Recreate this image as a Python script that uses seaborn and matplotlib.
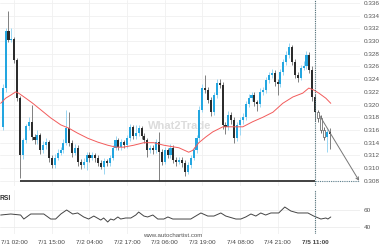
import numpy as np
import pandas as pd
import matplotlib
matplotlib.use("Agg")
import matplotlib.pyplot as plt
import seaborn as sns

# ---------------- data ----------------
opens = [0.3165, 0.3226, 0.3316, 0.3302, 0.3304, 0.3270, 0.3210, 0.3121, 0.3144, 0.3166,
         0.3173, 0.3149, 0.3144, 0.3152, 0.3128, 0.3136, 0.3141, 0.3116, 0.3105, 0.3116,
         0.3124, 0.3128, 0.3140, 0.3163, 0.3140, 0.3124, 0.3132, 0.3110, 0.3105, 0.3110,
         0.3121, 0.3116, 0.3121, 0.3116, 0.3108, 0.3102, 0.3111, 0.3108, 0.3116, 0.3132,
         0.3144, 0.3133, 0.3141, 0.3136, 0.3147, 0.3165, 0.3151, 0.3155, 0.3163, 0.3151,
         0.3144, 0.3128, 0.3132, 0.3128, 0.3141, 0.3125, 0.3110, 0.3128, 0.3121, 0.3132,
         0.3113, 0.3110, 0.3113, 0.3108, 0.3094, 0.3105, 0.3116, 0.3128, 0.3147, 0.3192,
         0.3226, 0.3223, 0.3207, 0.3188, 0.3215, 0.3234, 0.3231, 0.3168, 0.3165, 0.3184,
         0.3176, 0.3147, 0.3168, 0.3176, 0.3180, 0.3201, 0.3210, 0.3215, 0.3204, 0.3201,
         0.3220, 0.3223, 0.3239, 0.3247, 0.3250, 0.3236, 0.3232, 0.3251, 0.3267, 0.3278,
         0.3291, 0.3267, 0.3247, 0.3242, 0.3258, 0.3261, 0.3278, 0.3255, 0.3212, 0.3188,
         0.3179, 0.3160, 0.3149, 0.3157]
closes = [0.3226, 0.3316, 0.3302, 0.3304, 0.3270, 0.3210, 0.3121, 0.3144, 0.3166, 0.3173,
          0.3149, 0.3144, 0.3152, 0.3128, 0.3136, 0.3141, 0.3116, 0.3105, 0.3116, 0.3124,
          0.3128, 0.3140, 0.3163, 0.3140, 0.3124, 0.3132, 0.3110, 0.3105, 0.3110, 0.3121,
          0.3116, 0.3121, 0.3116, 0.3108, 0.3102, 0.3111, 0.3108, 0.3116, 0.3132, 0.3144,
          0.3133, 0.3141, 0.3136, 0.3147, 0.3165, 0.3151, 0.3155, 0.3163, 0.3151, 0.3144,
          0.3128, 0.3132, 0.3128, 0.3141, 0.3125, 0.3110, 0.3128, 0.3121, 0.3132, 0.3113,
          0.3110, 0.3113, 0.3108, 0.3094, 0.3105, 0.3116, 0.3128, 0.3147, 0.3192, 0.3226,
          0.3223, 0.3207, 0.3188, 0.3215, 0.3234, 0.3231, 0.3168, 0.3165, 0.3184, 0.3176,
          0.3147, 0.3168, 0.3176, 0.3180, 0.3201, 0.3210, 0.3215, 0.3204, 0.3201, 0.3220,
          0.3223, 0.3239, 0.3247, 0.3250, 0.3236, 0.3232, 0.3251, 0.3267, 0.3278, 0.3291,
          0.3267, 0.3247, 0.3242, 0.3258, 0.3261, 0.3278, 0.3255, 0.3212, 0.3188, 0.3179,
          0.3160, 0.3149, 0.3157, 0.3154]
highs = [0.3232, 0.3320, 0.3347, 0.3320, 0.3306, 0.3274, 0.3214, 0.3148, 0.3170, 0.3180,
         0.3199, 0.3153, 0.3160, 0.3156, 0.3142, 0.3148, 0.3145, 0.3120, 0.3122, 0.3130,
         0.3133, 0.3146, 0.3192, 0.3188, 0.3145, 0.3138, 0.3136, 0.3114, 0.3116, 0.3126,
         0.3126, 0.3126, 0.3124, 0.3120, 0.3112, 0.3116, 0.3115, 0.3120, 0.3136, 0.3150,
         0.3148, 0.3146, 0.3145, 0.3152, 0.3170, 0.3168, 0.3168, 0.3168, 0.3167, 0.3155,
         0.3148, 0.3136, 0.3136, 0.3146, 0.3157, 0.3130, 0.3134, 0.3132, 0.3138, 0.3136,
         0.3118, 0.3118, 0.3118, 0.3112, 0.3110, 0.3120, 0.3134, 0.3152, 0.3198, 0.3232,
         0.3246, 0.3228, 0.3212, 0.3220, 0.3240, 0.3240, 0.3236, 0.3172, 0.3190, 0.3188,
         0.3180, 0.3172, 0.3180, 0.3186, 0.3206, 0.3216, 0.3220, 0.3220, 0.3208, 0.3226,
         0.3228, 0.3244, 0.3252, 0.3256, 0.3254, 0.3240, 0.3256, 0.3272, 0.3284, 0.3297,
         0.3294, 0.3272, 0.3252, 0.3262, 0.3268, 0.3284, 0.3283, 0.3260, 0.3216, 0.3192,
         0.3184, 0.3165, 0.3162, 0.3163]
lows = [0.3160, 0.3220, 0.3298, 0.3298, 0.3266, 0.3205, 0.3084, 0.3115, 0.3140, 0.3160,
        0.3144, 0.3138, 0.3138, 0.3122, 0.3124, 0.3130, 0.3110, 0.3100, 0.3100, 0.3112,
        0.3120, 0.3124, 0.3136, 0.3135, 0.3118, 0.3120, 0.3104, 0.3098, 0.3100, 0.3097,
        0.3110, 0.3112, 0.3110, 0.3104, 0.3098, 0.3090, 0.3104, 0.3104, 0.3112, 0.3128,
        0.3128, 0.3128, 0.3132, 0.3132, 0.3142, 0.3146, 0.3146, 0.3150, 0.3146, 0.3140,
        0.3118, 0.3124, 0.3122, 0.3124, 0.3080, 0.3105, 0.3106, 0.3116, 0.3116, 0.3108,
        0.3104, 0.3106, 0.3102, 0.3088, 0.3090, 0.3100, 0.3112, 0.3124, 0.3142, 0.3188,
        0.3218, 0.3202, 0.3182, 0.3184, 0.3210, 0.3226, 0.3162, 0.3154, 0.3160, 0.3170,
        0.3140, 0.3142, 0.3152, 0.3170, 0.3176, 0.3196, 0.3205, 0.3198, 0.3190, 0.3196,
        0.3215, 0.3218, 0.3234, 0.3242, 0.3230, 0.3215, 0.3228, 0.3246, 0.3262, 0.3274,
        0.3262, 0.3242, 0.3236, 0.3238, 0.3254, 0.3256, 0.3250, 0.3206, 0.3174, 0.3172,
        0.3155, 0.3144, 0.3125, 0.3130]
hollow_candles = [109, 110, 111]

ma_idx = [-0.7, 1.0, 2.8, 4.5, 5.5, 8.0, 10.4, 13.1, 16.6, 20.1, 22.8, 25.9, 29.4, 32.8,
          36.3, 39.1, 41.8, 45.3, 48.8, 52.2, 55.7, 60.9, 64.3, 65.7, 67.8, 70.2, 72.6,
          76.1, 79.5, 83.0, 86.4, 89.9, 93.4, 96.8, 100.3, 103.7, 105.8, 107.5, 109.3,
          111.7, 113.4]
ma_val = [0.3202, 0.3210, 0.3215, 0.3220, 0.3218, 0.3210, 0.3202, 0.3192, 0.3179, 0.3168,
          0.3163, 0.3155, 0.3147, 0.3141, 0.3136, 0.3133, 0.3133, 0.3136, 0.3140, 0.3140,
          0.3136, 0.3132, 0.3125, 0.3128, 0.3140, 0.3149, 0.3157, 0.3165, 0.3165, 0.3165,
          0.3173, 0.3180, 0.3188, 0.3202, 0.3212, 0.3218, 0.3226, 0.3223, 0.3218, 0.3210,
          0.3202]

rsi_idx = [-0.7, 2.8, 6.2, 7.3, 9.7, 14.2, 16.6, 18.3, 20.1, 22.1, 24.2, 25.9, 28.0, 29.7,
           31.5, 33.9, 34.9, 36.3, 37.3, 38.4, 39.8, 40.8, 42.5, 44.3, 46.0, 47.0, 48.8,
           50.1, 51.9, 53.6, 55.7, 57.1, 58.8, 65.0, 68.5, 70.9, 73.0, 75.4, 77.1, 80.6,
           82.3, 84.0, 85.8, 87.5, 89.2, 90.9, 92.7, 95.4, 97.5, 99.6, 102.0, 105.5, 107.5,
           110.0, 111.7, 112.4, 113.4]
rsi_val = [54.1, 55.3, 54.1, 49.4, 55.3, 55.3, 49.4, 49.4, 55.3, 60.0, 55.3, 56.5, 51.8, 49.4,
           52.9, 48.2, 50.6, 45.9, 49.4, 48.2, 51.8, 49.4, 50.6, 50.6, 54.1, 57.6, 52.9,
           51.8, 54.1, 49.4, 49.4, 51.8, 49.4, 49.4, 56.5, 52.9, 52.9, 56.5, 52.9, 49.4,
           49.4, 51.8, 55.3, 52.9, 56.5, 54.1, 56.5, 56.5, 63.5, 58.8, 56.5, 56.5, 52.9,
           49.4, 50.6, 49.4, 51.8]

tick_idx = [4, 17, 30, 43, 56, 69, 82, 95, 108]
tick_labels = ["7/1 02:00", "7/1 15:00", "7/2 04:00", "7/2 17:00", "7/3 06:00",
               "7/3 19:00", "7/4 08:00", "7/4 21:00", "7/5 11:00"]
price_ticks = [0.308, 0.310, 0.312, 0.314, 0.316, 0.318, 0.320, 0.322, 0.324, 0.326,
               0.328, 0.330, 0.332, 0.334, 0.336]
rsi_ticks = [40, 60]
support_level = 0.308
support_start = 6
signal_idx = 108
arrow_start = (109.5, 0.3183)
arrow_end = (123.2, 0.3080)
watermark_pos = (61, 0.3166)

# ---------------- style ----------------
sns.set_theme(style="white")
plt.rcParams["font.family"] = ["Liberation Sans", "DejaVu Sans"]

W, H = 380, 250
fig = plt.figure(figsize=(W / 100, H / 100), dpi=100)
fig.patch.set_facecolor("white")

ax = fig.add_axes([0, 1 - 186 / H, 360 / W, 186 / H])
axr = fig.add_axes([0, 1 - 234 / H, 360 / W, 44 / H])

xlim = (-0.93, 123.5)
for a in (ax, axr):
    a.set_xlim(*xlim)
    for s in a.spines.values():
        s.set_visible(False)
    a.set_facecolor("white")
    for t in tick_idx:
        a.axvline(t, color="#f0f0f0", lw=0.6, zorder=0)

ax.set_ylim(0.30718, 0.33647)
for p in price_ticks:
    ax.axhline(p, color="#f0f0f0", lw=0.6, zorder=0)

# candles
BLUE = "#23a6e0"
LBLUE = "#9ad6f2"
DARK = "#2c2c2c"
GREY = "#808080"
n = len(closes)
idx = list(range(n))
df = pd.DataFrame({"i": idx, "o": opens, "h": highs, "l": lows, "c": closes})
for r in df.itertuples():
    up = r.c >= r.o
    hollow = r.i in hollow_candles
    wick_col = LBLUE if up else GREY
    if hollow:
        wick_col = "#707070"
    ax.vlines(r.i, r.l, r.h, color=wick_col, lw=0.7, zorder=2)
    bottom = min(r.o, r.c)
    height = max(abs(r.c - r.o), 0.00009)
    if hollow:
        ax.bar(r.i, height, bottom=bottom, width=0.72, color="white",
               edgecolor="#555555", linewidth=0.5, zorder=3)
    else:
        ax.bar(r.i, height, bottom=bottom, width=0.72, color=BLUE if up else DARK,
               linewidth=0, zorder=3)

# moving average
ma_df = pd.DataFrame({"i": ma_idx, "v": ma_val})
sns.lineplot(data=ma_df, x="i", y="v", ax=ax, color="#f25b5b", lw=0.7,
             sort=False, zorder=4)

# support line + signal lines
ax.hlines(support_level, support_start, signal_idx, color="#333333", lw=1.3, zorder=5)
ax.hlines(support_level, signal_idx, xlim[1], color="#5f8290", lw=0.8,
          linestyles=(0, (1, 1)), zorder=5)
for a in (ax, axr):
    a.axvline(signal_idx, color="#4f6f78", lw=0.8, ls=(0, (1, 1)), zorder=5)
ax.annotate("", xy=arrow_end, xytext=arrow_start,
            arrowprops=dict(arrowstyle="->", color="#777777", lw=0.7,
                            mutation_scale=5, shrinkA=0, shrinkB=0), zorder=6)

# watermark
ax.text(watermark_pos[0], watermark_pos[1], "What2Trade", fontsize=8, fontweight="bold",
        color="#dcdcdc", ha="center", va="center", zorder=1)

# y labels on right
ax.set_xticks([])
ax.yaxis.tick_right()
ax.set_yticks(price_ticks)
ax.set_yticklabels([f"{p:.3f}" for p in price_ticks])
ax.tick_params(axis="y", length=0, pad=2.5, labelsize=4.6, labelcolor="#555555")

# RSI panel
axr.set_ylim(31.8, 83.5)
for v in rsi_ticks:
    axr.axhline(v, color="#ececec", lw=0.6, zorder=0)
rsi_df = pd.DataFrame({"i": rsi_idx, "v": rsi_val})
sns.lineplot(data=rsi_df, x="i", y="v", ax=axr, color="#444444", lw=0.7,
             sort=False, zorder=3)
axr.yaxis.tick_right()
axr.set_yticks(rsi_ticks)
axr.set_yticklabels([str(v) for v in rsi_ticks])
axr.tick_params(axis="y", length=0, pad=2.5, labelsize=4.6, labelcolor="#555555")
axr.set_xticks(tick_idx)
axr.set_xticklabels(tick_labels)
axr.tick_params(axis="x", length=0, pad=4, labelsize=4.6, labelcolor="#444444")
axr.get_xticklabels()[-1].set_fontweight("bold")
axr.set_xlabel("")
axr.set_ylabel("")
ax.set_xlabel("")
ax.set_ylabel("")

fig.text(-1 / W, 1 - 198.5 / H, "RSI", fontsize=4.8, fontweight="bold",
         color="#333333", ha="left", va="center")
fig.text(173 / W, 1 - 235.5 / H, "www.autochartist.com", fontsize=4.4,
         color="#555555", ha="center", va="center")

fig.savefig("out.png", dpi=100, facecolor="white")
